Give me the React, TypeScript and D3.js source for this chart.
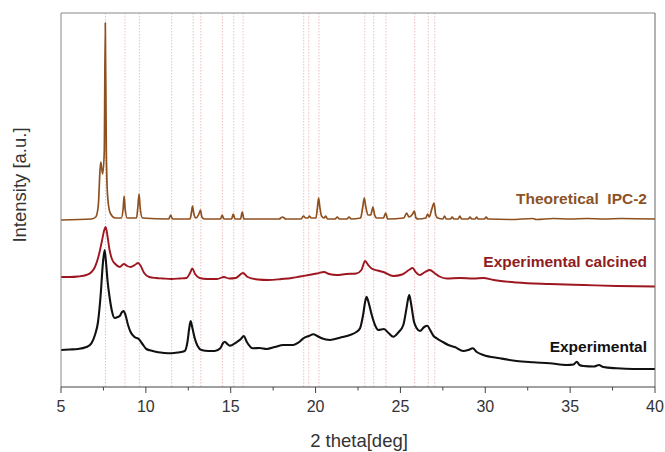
import React from "react";
import * as d3 from "d3";

type Pt = [number, number];

const xTicks = [5, 10, 15, 20, 25, 30, 35, 40];
const xMinorTicks = [7.5, 12.5, 17.5, 22.5, 27.5, 32.5, 37.5];
const referenceLines = [7.62, 8.77, 9.62, 11.52, 12.79, 13.24, 14.51, 15.18, 15.73, 19.3, 19.6, 20.2, 22.9, 23.42, 24.15, 25.84, 26.64, 27.02];

const theoretical: Pt[] = [
  [5, 167], [6.8, 168], [7.05, 170], [7.2, 182], [7.3, 217], [7.35, 225], [7.45, 213], [7.55, 235], [7.61, 364], [7.67, 235], [7.75, 190], [7.9, 174], [8.2, 169],
  [8.55, 169], [8.66, 178], [8.72, 191], [8.78, 178], [8.9, 169],
  [9.45, 169], [9.53, 180], [9.6, 193], [9.66, 180], [9.8, 169],
  [11.35, 168], [11.46, 172], [11.57, 168],
  [12.6, 168], [12.7, 176], [12.75, 181], [12.82, 174], [12.95, 169], [13.15, 174], [13.22, 177], [13.3, 170], [13.45, 168],
  [14.4, 168], [14.5, 172], [14.6, 168], [15.05, 168], [15.15, 173], [15.25, 168], [15.58, 168], [15.68, 175], [15.78, 168],
  [17.85, 168], [18.05, 170], [18.25, 168],
  [19.15, 168], [19.28, 171], [19.42, 169], [19.55, 169], [19.63, 171], [19.75, 169],
  [20.02, 169], [20.12, 181], [20.18, 189], [20.25, 180], [20.35, 171], [20.5, 169], [20.6, 171], [20.7, 168],
  [21.15, 168], [21.28, 170], [21.4, 168], [21.85, 168], [21.97, 170], [22.1, 168],
  [22.65, 169], [22.78, 180], [22.87, 189], [22.95, 181], [23.1, 172], [23.25, 172], [23.38, 180], [23.48, 172], [23.6, 169],
  [24.0, 169], [24.13, 174], [24.25, 168],
  [25.2, 169], [25.37, 174], [25.5, 170], [25.72, 173], [25.82, 176], [25.92, 169], [26.05, 168],
  [26.5, 169], [26.6, 173], [26.7, 170], [26.85, 178], [26.98, 184], [27.08, 172], [27.2, 169],
  [27.5, 168], [27.6, 171], [27.7, 168], [27.95, 168], [28.05, 170], [28.15, 168], [28.4, 168], [28.5, 171], [28.6, 168],
  [29.0, 168], [29.1, 170], [29.2, 168], [29.4, 168], [29.48, 170], [29.58, 168], [29.95, 168], [30.05, 170], [30.15, 168],
  [31.5, 167.5], [32.8, 168.5], [33.0, 167.5], [34, 168.5], [35, 168], [36, 168.5], [37, 168], [38, 168.5], [40, 168],
];

const calcined: Pt[] = [
  [5, 110], [5.5, 110], [6.0, 110.5], [6.5, 112], [6.8, 115], [7.0, 120], [7.2, 130], [7.4, 145], [7.55, 157], [7.63, 160], [7.72, 153],
  [7.85, 138], [8.0, 128], [8.2, 123], [8.46, 120], [8.7, 123], [8.9, 121], [9.1, 120], [9.35, 122], [9.54, 124], [9.7, 121], [9.9, 114],
  [10.2, 110], [10.6, 109], [11, 108.5], [11.5, 108], [12, 108.5], [12.4, 109], [12.6, 114], [12.74, 118.5], [12.9, 113], [13.17, 109],
  [13.6, 108], [14.2, 108], [14.6, 110], [14.9, 108.5], [15.3, 109], [15.72, 114], [16.0, 110], [16.6, 107.5], [17.2, 107], [18, 108],
  [18.6, 109], [19.08, 110.5], [19.6, 112], [20.07, 113.5], [20.5, 115], [20.8, 113], [21.25, 112], [21.8, 113], [22.4, 113.5], [22.7, 117],
  [22.92, 126], [23.1, 122], [23.3, 118.5], [23.65, 116.5], [24.0, 115], [24.58, 111], [25.1, 112.5], [25.5, 117], [25.72, 119], [25.9, 115],
  [26.15, 112], [26.45, 115], [26.74, 117], [27.0, 114], [27.3, 110.5], [27.73, 108.5], [28.5, 109], [29.3, 108.5], [29.88, 109], [30.5, 107],
  [31.85, 104.5], [33.8, 103], [35.8, 102], [37.74, 101], [40, 100.5],
];

const experimental: Pt[] = [
  [5, 37], [5.5, 37.5], [6.0, 38], [6.5, 40], [6.79, 43.7], [7.0, 52], [7.18, 65], [7.35, 95], [7.45, 120], [7.57, 137], [7.65, 125], [7.75, 105],
  [7.87, 89], [8.0, 76], [8.16, 69], [8.35, 70], [8.46, 71], [8.6, 75], [8.69, 76], [8.8, 72], [8.95, 62], [9.1, 55], [9.34, 50], [9.58, 48],
  [9.8, 43], [10.03, 38], [10.4, 36], [10.72, 34.7], [11.1, 34], [11.5, 33.7], [11.9, 34.5], [12.29, 36], [12.45, 45], [12.55, 58], [12.64, 66],
  [12.73, 60], [12.88, 48.7], [13.05, 41], [13.27, 37], [13.7, 36], [14.06, 36], [14.4, 39], [14.55, 44], [14.65, 45.3], [14.8, 43], [14.94, 41.3],
  [15.33, 44.7], [15.6, 48], [15.77, 51], [15.95, 45], [16.3, 38.7], [16.7, 39], [17.12, 38], [17.6, 40], [18.1, 42], [18.69, 42], [19.0, 44.5],
  [19.28, 48.7], [19.6, 51], [19.87, 52.7], [20.1, 51], [20.36, 48.7], [20.85, 47], [21.44, 49.3], [22.03, 52], [22.4, 55], [22.62, 58.7],
  [22.8, 72], [22.93, 86], [23.01, 90.3], [23.1, 86], [23.31, 72], [23.5, 62], [23.7, 57], [24.03, 58], [24.3, 54], [24.58, 50.3], [24.9, 55],
  [25.17, 62], [25.35, 78], [25.45, 88], [25.52, 92], [25.6, 86], [25.8, 65.3], [25.95, 59], [26.15, 56], [26.4, 60], [26.58, 61.3], [26.75, 57],
  [26.95, 51], [27.14, 48.7], [27.5, 45], [27.82, 42], [28.2, 40], [28.71, 36], [29.0, 37], [29.26, 38.7], [29.5, 35], [29.88, 32], [30.87, 28.7],
  [31.85, 26], [32.83, 24.7], [33.8, 23.7], [34.8, 22], [35.2, 22.5], [35.39, 25.3], [35.55, 22], [35.78, 21], [36.4, 20.5], [36.7, 22],
  [36.95, 20], [37.74, 18.7], [38.72, 18], [40, 18],
];

const seriesLabels = ["Theoretical  IPC-2", "Experimental calcined", "Experimental"];

const FONT = "'Liberation Sans', Arial, Helvetica, sans-serif";

export default function App() {
  const left = 61, right = 655, top = 13, bottom = 387;
  const x = d3.scaleLinear().domain([5, 40]).range([left, right]);
  const y = d3.scaleLinear().domain([0, 374]).range([bottom, top]);
  const line = d3
    .line<Pt>()
    .x((d) => x(d[0]))
    .y((d) => y(d[1]))
    .curve(d3.curveMonotoneX);

  return (
    <svg width={665} height={452} style={{ position: "absolute", left: 0, top: 0, background: "#fff" }} fontFamily={FONT}>
      <rect x={0} y={0} width={665} height={452} fill="#fff" />
      {referenceLines.map((v, i) => (
        <line key={i} x1={x(v)} x2={x(v)} y1={top} y2={bottom} stroke="#e8b0b0" strokeWidth={0.8} strokeDasharray="1.5,1.5" />
      ))}
      <path d={line(theoretical) || ""} fill="none" stroke="#8e501f" strokeWidth={1.7} />
      <path d={line(calcined) || ""} fill="none" stroke="#9e1620" strokeWidth={1.9} />
      <path d={line(experimental) || ""} fill="none" stroke="#111" strokeWidth={2.1} />

      {/* frame */}
      <line x1={left} x2={right} y1={top} y2={top} stroke="#888" strokeWidth={1} />
      <line x1={left} x2={left} y1={top} y2={bottom} stroke="#888" strokeWidth={1} />
      <line x1={right} x2={right} y1={top} y2={bottom} stroke="#666" strokeWidth={1} />
      <line x1={left} x2={right} y1={bottom} y2={bottom} stroke="#444" strokeWidth={1.2} />

      {xTicks.map((t) => (
        <g key={t}>
          <line x1={x(t)} x2={x(t)} y1={bottom} y2={bottom + 6} stroke="#444" strokeWidth={1} />
          <text x={x(t)} y={412} textAnchor="middle" fontSize={16} fill="#333">
            {t}
          </text>
        </g>
      ))}
      {xMinorTicks.map((t) => (
        <line key={t} x1={x(t)} x2={x(t)} y1={bottom} y2={bottom + 3.5} stroke="#444" strokeWidth={1} />
      ))}

      <text x={359} y={446.5} textAnchor="middle" fontSize={18.5} fill="#333">
        2 theta[deg]
      </text>
      <text transform="translate(25.5,185) rotate(-90)" textAnchor="middle" fontSize={18.5} fill="#333">
        Intensity [a.u.]
      </text>

      <text x={647} y={203.5} textAnchor="end" fontSize={15.5} fontWeight="bold" fill="#8b5325" style={{ whiteSpace: "pre" }}>
        {seriesLabels[0]}
      </text>
      <text x={647} y={266.5} textAnchor="end" fontSize={15.5} fontWeight="bold" fill="#8e1c22">
        {seriesLabels[1]}
      </text>
      <text x={647} y={351.5} textAnchor="end" fontSize={15.5} fontWeight="bold" fill="#111">
        {seriesLabels[2]}
      </text>
    </svg>
  );
}
